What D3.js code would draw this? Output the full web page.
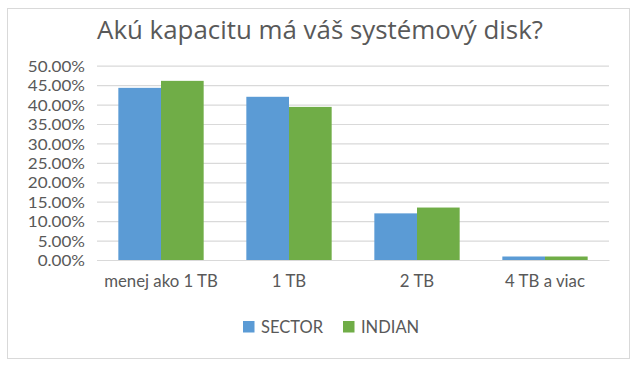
<!DOCTYPE html>
<html><head><meta charset="utf-8">
<script src="https://cdn.jsdelivr.net/npm/d3@7"></script>
<style>
html,body{margin:0;padding:0;background:#fff;}
text{font-family:Lato,"Open Sans",sans-serif;fill:#595959;}
</style></head>
<body>
<svg id="c" width="640" height="367"></svg>
<script>
const title = "Akú kapacitu má váš systémový disk?";
const categories = ["menej ako 1 TB", "1 TB", "2 TB", "4 TB a viac"];
const seriesNames = ["SECTOR", "INDIAN"];
const sectorValues = [0.443, 0.420, 0.120, 0.009];
const indianValues = [0.461, 0.394, 0.135, 0.009];
const yTicks = [0, 0.05, 0.10, 0.15, 0.20, 0.25, 0.30, 0.35, 0.40, 0.45, 0.50];
const colors = ["#5b9bd5", "#70ad47"];

const FONT = "Lato,'Open Sans',sans-serif";
const svg = d3.select("#c");
svg.append("rect").attr("x", 7.5).attr("y", 8.5).attr("width", 622).attr("height", 350)
  .attr("fill", "#fff").attr("stroke", "#d9d9d9").attr("stroke-width", 1);

const plot = {left: 97, right: 609, top: 65.7, bottom: 260};
const x0 = d3.scaleBand().domain(categories).range([plot.left, plot.right]).paddingInner(1/3).paddingOuter(1/6);
const x1 = d3.scaleBand().domain(seriesNames).range([0, x0.bandwidth()]);
const y = d3.scaleLinear().domain([0, 0.5]).range([plot.bottom, plot.top]);

// gridlines + y labels
const yAxis = d3.axisLeft(y).tickValues(yTicks).tickFormat(d => (d*100).toFixed(2) + "%")
  .tickSize(-(plot.right - plot.left)).tickPadding(12);
const ga = svg.append("g").attr("transform", `translate(${plot.left},0)`).call(yAxis);
ga.select(".domain").remove();
ga.selectAll(".tick line").attr("stroke", "#d9d9d9").attr("stroke-width", 1.2);
ga.selectAll(".tick text").attr("font-size", 15.5).attr("fill", "#595959")
  .style("font-family", FONT).attr("dy", "0.36em")
  .each(function() {
    const w = this.getComputedTextLength();
    d3.select(this).attr("textLength", w * 1.1).attr("lengthAdjust", "spacingAndGlyphs");
  });

// bars
const data = categories.map((c, i) => ({cat: c, vals: [sectorValues[i], indianValues[i]]}));
const groups = svg.append("g").selectAll("g").data(data).join("g")
  .attr("transform", d => `translate(${x0(d.cat)},0)`);
groups.selectAll("rect").data(d => d.vals.map((v, j) => ({name: seriesNames[j], v, j})))
  .join("rect")
  .attr("x", d => x1(d.name)).attr("width", x1.bandwidth())
  .attr("y", d => y(d.v)).attr("height", d => y(0) - y(d.v))
  .attr("fill", d => colors[d.j]);

// x axis labels
const xAxis = d3.axisBottom(x0).tickSize(0).tickPadding(15);
const gx = svg.append("g").attr("transform", `translate(0,${plot.bottom})`).call(xAxis);
gx.select(".domain").attr("stroke", "#d9d9d9").attr("stroke-width", 1.2);
gx.selectAll(".tick text").attr("font-size", 16.8).attr("fill", "#595959")
  .style("font-family", FONT);

// title
const t = svg.append("text").attr("x", 320).attr("y", 38.5).attr("text-anchor", "middle")
  .style("font-family", "'Open Sans',sans-serif")
  .attr("font-size", 27).attr("fill", "#595959").text(title);
const tw = t.node().getComputedTextLength();
t.attr("font-size", 27 * 446 / tw);

// legend
const legendItems = [{name: seriesNames[0], x: 243}, {name: seriesNames[1], x: 343}];
const lg = svg.append("g").selectAll("g").data(legendItems).join("g")
  .attr("transform", d => `translate(${d.x},321)`);
lg.append("rect").attr("width", 11.5).attr("height", 11.5).attr("fill", (d, i) => colors[i]);
lg.append("text").attr("x", 18).attr("y", 12).attr("font-size", 16.5).text(d => d.name);
</script>
</body></html>
